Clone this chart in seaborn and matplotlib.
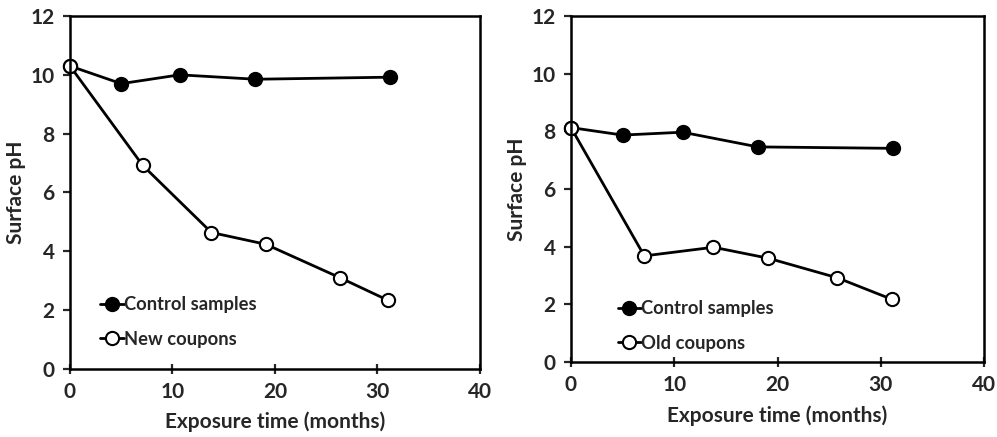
import matplotlib
matplotlib.use("Agg")
import matplotlib.pyplot as plt
import seaborn as sns
import pandas as pd

sns.set_style("ticks")
plt.rcParams['font.family'] = ['Lato', 'DejaVu Sans']

# Left panel
left_ctrl_t = [0, 5.0, 10.7, 18.1, 31.2]
left_ctrl_ph = [10.3, 9.7, 10.0, 9.85, 9.92]
left_new_t = [0, 7.1, 13.8, 19.1, 26.3, 31.0]
left_new_ph = [10.3, 6.92, 4.64, 4.24, 3.11, 2.34]

# Right panel
right_ctrl_t = [0, 5.0, 10.8, 18.1, 31.2]
right_ctrl_ph = [8.13, 7.87, 7.97, 7.46, 7.41]
right_old_t = [0, 7.1, 13.8, 19.1, 25.8, 31.1]
right_old_ph = [8.13, 3.68, 3.98, 3.6, 2.92, 2.17]

xticks = [0, 10, 20, 30, 40]
yticks = [0, 2, 4, 6, 8, 10, 12]

fig = plt.figure(figsize=(9.97, 4.37), dpi=100)
ax1 = fig.add_axes([0.0702, 0.1556, 0.4112, 0.8078])
ax2 = fig.add_axes([0.5727, 0.1716, 0.4143, 0.7918])

def panel(ax, ct, cp, ot, op, olabel, leg_anchor):
    sns.lineplot(x=ct, y=cp, ax=ax, color='black', lw=2.0, marker='o',
                 markersize=9.5, markerfacecolor='black', markeredgecolor='black',
                 markeredgewidth=1.5, label='Control samples')
    sns.lineplot(x=ot, y=op, ax=ax, color='black', lw=2.0, marker='o',
                 markersize=9.5, markerfacecolor='white', markeredgecolor='black',
                 markeredgewidth=1.5, label=olabel)
    ax.set_xlim(0, 40)
    ax.set_ylim(0, 12)
    ax.set_xticks(xticks)
    ax.set_yticks(yticks)
    for s in ax.spines.values():
        s.set_linewidth(1.8)
        s.set_color('black')
        s.set_visible(True)
    ax.tick_params(axis='y', direction='out', length=5, width=1.6,
                   labelsize=15, pad=6)
    ax.tick_params(axis='x', direction='inout', length=7, width=1.6,
                   labelsize=15, pad=6)
    for lab in ax.get_xticklabels() + ax.get_yticklabels():
        lab.set_fontweight('bold')
    ax.set_xlabel('Exposure time (months)', fontsize=15, fontweight='bold', labelpad=7)
    ax.set_ylabel('Surface pH', fontsize=15, fontweight='bold', labelpad=3)
    leg = ax.legend(loc='lower left', bbox_to_anchor=leg_anchor, frameon=False,
                    fontsize=13.2, handlelength=1.3, handletextpad=0.0,
                    labelspacing=0.95, borderaxespad=0)
    for t in leg.get_texts():
        t.set_fontweight('bold')
    for ln in ax.lines:
        ln.set_clip_on(False)

panel(ax1, left_ctrl_t, left_ctrl_ph, left_new_t, left_new_ph, 'New coupons', (0.055, 0.04))
panel(ax2, right_ctrl_t, right_ctrl_ph, right_old_t, right_old_ph, 'Old coupons', (0.095, 0.008))

fig.savefig('out.png', dpi=100)
